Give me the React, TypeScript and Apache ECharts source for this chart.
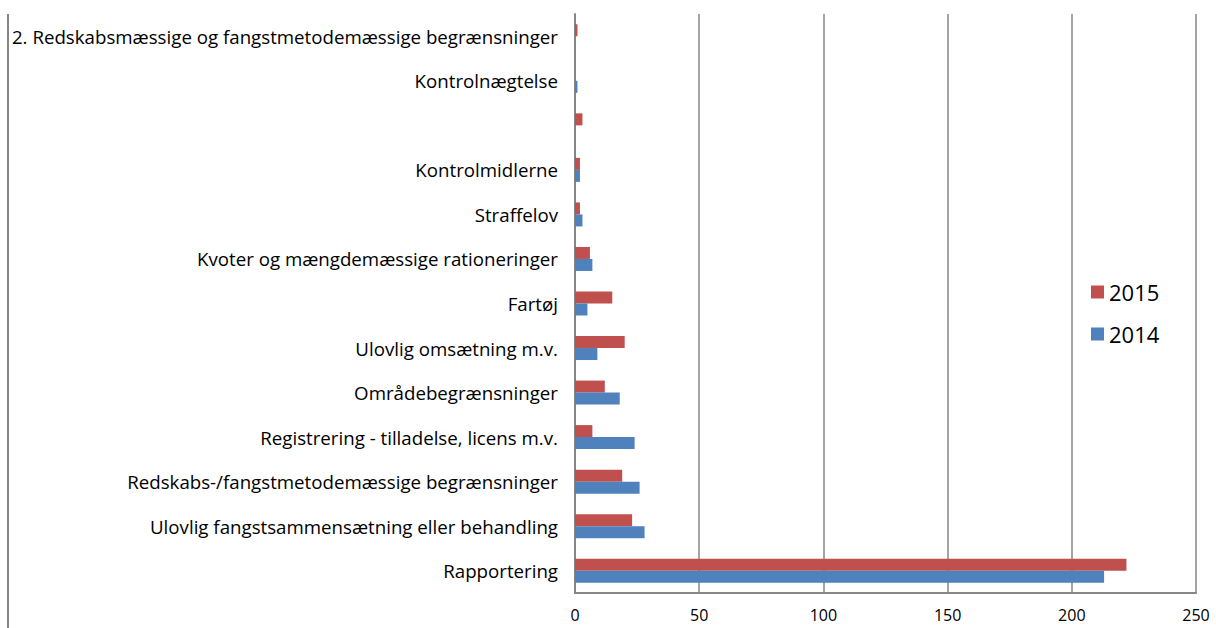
import React, { useEffect, useRef } from "react";
import * as echarts from "echarts";

const categories = [
  "Rapportering",
  "Ulovlig fangstsammensætning eller behandling",
  "Redskabs-/fangstmetodemæssige begrænsninger",
  "Registrering - tilladelse, licens m.v.",
  "Områdebegrænsninger",
  "Ulovlig omsætning m.v.",
  "Fartøj",
  "Kvoter og mængdemæssige rationeringer",
  "Straffelov",
  "Kontrolmidlerne",
  "",
  "Kontrolnægtelse",
  "2. Redskabsmæssige og fangstmetodemæssige begrænsninger",
];
const values2014 = [213, 28, 26, 24, 18, 9, 5, 7, 3, 2, 0, 1, 0];
const values2015 = [222, 23, 19, 7, 12, 20, 15, 6, 2, 2, 3, 0, 1];
const xTicks = [0, 50, 100, 150, 200, 250];

const FONT = "'Open Sans', 'Liberation Sans', Arial, sans-serif";

export default function App() {
  const ref = useRef<HTMLDivElement>(null);
  useEffect(() => {
    if (!ref.current) return;
    const chart = echarts.init(ref.current, undefined, { renderer: "svg" });
    chart.setOption({
      animation: false,
      backgroundColor: "#ffffff",
      textStyle: { fontFamily: FONT },
      grid: { left: 575, top: 14, right: 20, bottom: 35, containLabel: false },
      legend: {
        data: ["2015", "2014"],
        orient: "vertical",
        left: 1086,
        top: 276,
        itemWidth: 13,
        itemHeight: 13,
        itemGap: 20,
        icon: "rect",
        textStyle: { fontSize: 22, color: "#000", fontFamily: FONT },
      },
      xAxis: {
        type: "value",
        min: xTicks[0],
        max: xTicks[xTicks.length - 1],
        interval: 50,
        axisLine: { show: true, lineStyle: { color: "#868686", width: 2 } },
        axisTick: { show: false },
        axisLabel: { fontSize: 16, lineHeight: 16, color: "#000", margin: 14, fontFamily: FONT },
        splitLine: { show: true, lineStyle: { color: "#868686", width: 1.5 } },
      },
      yAxis: {
        type: "category",
        data: categories,
        axisLine: { show: true, lineStyle: { color: "#868686", width: 2 } },
        axisTick: { show: false },
        axisLabel: { fontSize: 18.7, color: "#000", margin: 17, fontFamily: FONT, interval: 0 },
      },
      series: [
        {
          name: "2015",
          type: "bar",
          data: values2015,
          barWidth: 12,
          barGap: "0%",
          itemStyle: { color: "#C0504D" },
        },
        {
          name: "2014",
          type: "bar",
          data: values2014,
          barWidth: 12,
          barGap: "0%",
          itemStyle: { color: "#4F81BD" },
        },
      ],
      graphic: [
        {
          type: "line",
          shape: { x1: 8, y1: 14, x2: 8, y2: 628 },
          style: { stroke: "#868686", lineWidth: 2 },
        },
      ],
    });
    return () => chart.dispose();
  }, []);
  return <div ref={ref} style={{ width: 1216, height: 628, position: "absolute", left: 0, top: 0 }} />;
}
